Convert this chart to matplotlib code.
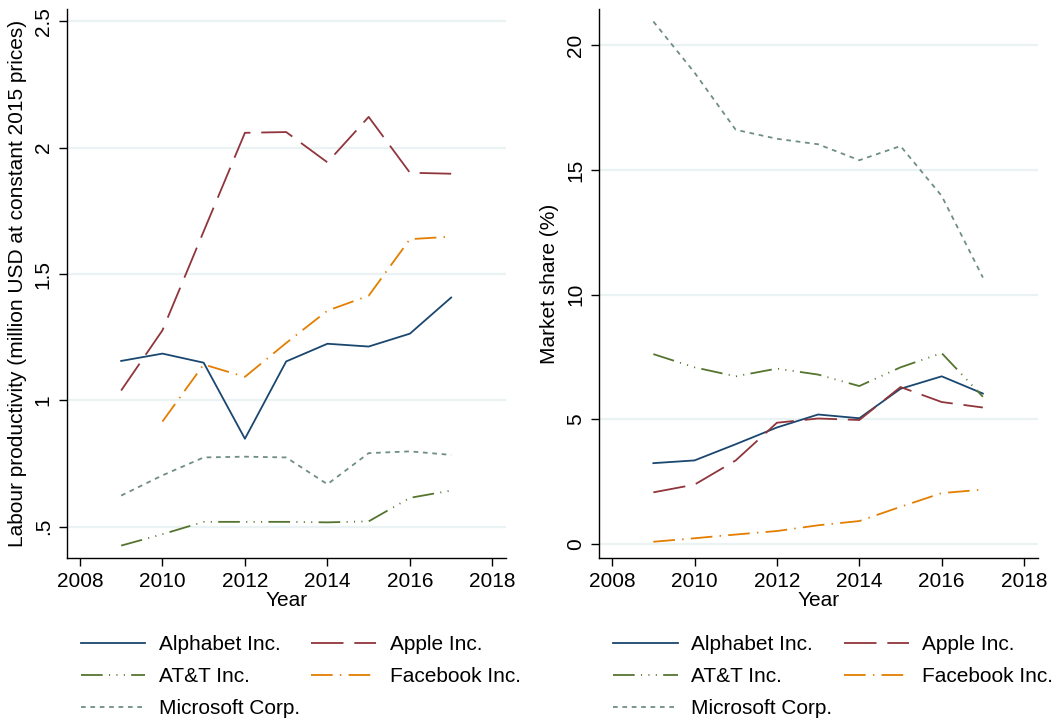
import matplotlib
matplotlib.use("Agg")
import matplotlib.pyplot as plt
import numpy as np

plt.rcParams["font.family"] = ["Liberation Sans", "DejaVu Sans"]
plt.rcParams["font.size"] = 15

years = [2009, 2010, 2011, 2012, 2013, 2014, 2015, 2016, 2017]
companies = ["Alphabet Inc.", "Apple Inc.", "AT&T Inc.", "Facebook Inc.", "Microsoft Corp."]

# labour productivity, million USD at constant 2015 prices
prod_alphabet = [1.156, 1.185, 1.149, 0.848, 1.154, 1.224, 1.213, 1.264, 1.407]
prod_apple = [1.039, 1.277, 1.669, 2.059, 2.062, 1.942, 2.122, 1.901, 1.897]
prod_att = [0.425, 0.470, 0.519, 0.519, 0.519, 0.517, 0.521, 0.614, 0.643]
prod_facebook = [np.nan, 0.916, 1.142, 1.093, 1.227, 1.355, 1.414, 1.638, 1.648]
prod_microsoft = [0.623, 0.703, 0.774, 0.777, 0.774, 0.668, 0.791, 0.798, 0.784]

# market share, %
share_alphabet = [3.25, 3.36, 4.01, 4.68, 5.20, 5.05, 6.23, 6.73, 6.04]
share_apple = [2.08, 2.39, 3.36, 4.87, 5.04, 4.98, 6.30, 5.70, 5.48]
share_att = [7.62, 7.09, 6.73, 7.04, 6.80, 6.34, 7.09, 7.66, 5.91]
share_facebook = [0.10, 0.24, 0.39, 0.53, 0.76, 0.93, 1.50, 2.05, 2.19]
share_microsoft = [20.95, 18.9, 16.61, 16.25, 16.03, 15.39, 15.96, 13.96, 10.69]

x_ticks = [2008, 2010, 2012, 2014, 2016, 2018]
prod_ticks = [0.5, 1, 1.5, 2, 2.5]
prod_tick_labels = [".5", "1", "1.5", "2", "2.5"]
share_ticks = [0, 5, 10, 15, 20]
share_tick_labels = ["0", "5", "10", "15", "20"]

colors = ["#1a476f", "#90353b", "#55752f", "#e37e00", "#6e8e84"]
dashes = [
    None,
    (18, 6),
    (12, 3.5, 0.6, 3.5, 0.6, 3.5, 0.6, 3.5),
    (12, 4, 0.8, 4),
    (2.6, 2.6),
]

fig = plt.figure(figsize=(10.54, 7.19), dpi=100)
ax1 = fig.add_axes([0.0633, 0.2243, 0.4168, 0.7628])
ax2 = fig.add_axes([0.5683, 0.2243, 0.4162, 0.7628])

def style_axis(ax, ticks, labels, ylim, ylabel):
    ax.set_xlim(2007.68, 2018.33)
    ax.set_ylim(*ylim)
    ax.set_xticks(x_ticks)
    ax.set_yticks(ticks)
    ax.set_yticklabels(labels, rotation=90, va="center")
    ax.grid(axis="y", color="#eaf2f3", linewidth=1.6)
    ax.set_axisbelow(True)
    for side in ["top", "right"]:
        ax.spines[side].set_visible(False)
    for side in ["left", "bottom"]:
        ax.spines[side].set_linewidth(1.0)
    ax.tick_params(direction="out", length=6, width=1.0, pad=4)
    ax.set_xlabel("Year", labelpad=0)
    ax.set_ylabel(ylabel, labelpad=5)

def draw(ax, series):
    handles = []
    for vals, c, d in zip(series, colors, dashes):
        line, = ax.plot(years, vals, color=c, linewidth=1.3)
        if d is not None:
            line.set_dashes(d)
        handles.append(line)
    return handles

h1 = draw(ax1, [prod_alphabet, prod_apple, prod_att, prod_facebook, prod_microsoft])
h2 = draw(ax2, [share_alphabet, share_apple, share_att, share_facebook, share_microsoft])

style_axis(ax1, prod_ticks, prod_tick_labels, (0.377, 2.548),
           "Labour productivity (million USD at constant 2015 prices)")
style_axis(ax2, share_ticks, share_tick_labels, (-0.54, 21.44), "Market share (%)")

order = [0, 2, 4, 1, 3]
for hs, x0 in [(h1, 80.7), (h2, 613.3)]:
    fig.legend([hs[i] for i in order], [companies[i] for i in order],
               ncol=2, loc="upper left", bbox_to_anchor=(x0 / 1054, 1 - 635 / 719),
               frameon=False, borderpad=0, borderaxespad=0,
               handlelength=3.1, handletextpad=0.65, columnspacing=0.55,
               labelspacing=0.62)

fig.savefig("out.png", dpi=100)
